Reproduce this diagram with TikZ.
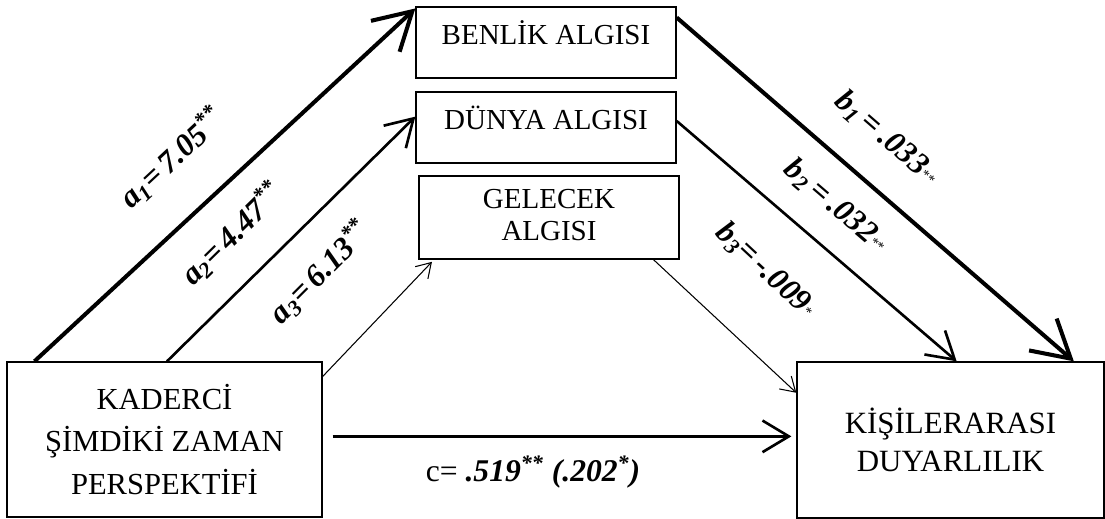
\documentclass[tikz,border=0pt]{standalone}
\usepackage{fontspec}
\setmainfont{Liberation Serif}
\usetikzlibrary{arrows.meta,calc}

\tikzset{
  box/.style={draw, line width=0.8pt, inner sep=0pt, align=center},
  smallbox/.style={box, minimum width=5.2cm, minimum height=1.42cm, font=\fontsize{16.5}{18.2}\selectfont, text height=0.4cm, text depth=0.3cm},
  bigbox/.style={box, font=\fontsize{17.4}{24.2}\selectfont},
  coef/.style={font=\fontsize{18}{21}\selectfont\bfseries\itshape, inner sep=0pt},
  heavy/.style={line width=2.3pt, -{Straight Barb[length=21pt,width=24pt]}},
  medium/.style={line width=1.5pt, -{Straight Barb[length=15pt,width=18pt]}},
  light/.style={line width=0.6pt, -{Straight Barb[length=8pt,width=10pt]}},
}

\begin{document}
\begin{tikzpicture}[x=0.02cm, y=-0.02cm]
\useasboundingbox (0,0) rectangle (1105,519);
% boxes
\node[smallbox] (benlik) at (546,42.5) {BENLİK ALGISI};
\node[smallbox] (dunya) at (546,127.5) {DÜNYA ALGISI};
\node[box, minimum width=5.2cm, minimum height=1.66cm, font=\fontsize{16.5}{18.2}\selectfont, text depth=0.1cm] (gelecek) at (549,217.5) {GELECEK\\ALGISI};
\node[bigbox, minimum width=6.3cm, minimum height=3.1cm] (kaderci) at (164.5,439.5) {KADERCİ\\ŞİMDİKİ ZAMAN\\PERSPEKTİFİ};
\node[bigbox, minimum width=6.14cm, minimum height=3.12cm, font=\fontsize{17.6}{21.6}\selectfont] (kisi) at (950.5,440) {KİŞİLERARASI\\DUYARLILIK};
% paths a
\draw[heavy] ($(kaderci.north west)!0.089!(kaderci.north east)$) -- ($(benlik.north west)!0.03!(benlik.south west)$);
\draw[medium] ($(kaderci.north west)!0.508!(kaderci.north east)$) -- ($(dunya.north west)!0.35!(dunya.south west)$);
\draw[light, shorten >=1.7pt] ($(kaderci.north east)!0.097!(kaderci.south east)$) -- ($(gelecek.south west)!0.06!(gelecek.south east)$);
% paths b
\draw[heavy] ($(benlik.north east)!0.155!(benlik.south east)$) -- ($(kisi.north west)!0.9!(kisi.north east)$);
\draw[medium] ($(dunya.north east)!0.41!(dunya.south east)$) -- ($(kisi.north west)!0.52!(kisi.north east)$);
\draw[light] ($(gelecek.south west)!0.9!(gelecek.south east)$) -- ($(kisi.north west)!0.2!(kisi.south west)$);
% path c
\coordinate (cfrom) at ($(kaderci.north east)!0.48!(kaderci.south east)$);
\draw[medium, shorten <=5.7pt, shorten >=2.8pt] (cfrom) -- (cfrom -| kisi.west);
% coefficients
\node[coef, rotate=43] (la1) at (172,158) {a\textsubscript{1}=\,7.05\textsuperscript{**}};
\node[coef, rotate=44.5] (la2) at (232,234) {a\textsubscript{2}=\,4.47\textsuperscript{**}};
\node[coef, rotate=45] (la3) at (320,272) {a\textsubscript{3}=\,6.13\textsuperscript{**}};
\node[coef, rotate=-41] (lb1) at (887,138) {b\textsubscript{1}\,=\,.033\raisebox{0.1ex}{\footnotesize\mdseries **}};
\node[coef, rotate=-40.6] (lb2) at (836,206) {b\textsubscript{2}\,=\,.032\raisebox{0.1ex}{\footnotesize\mdseries **}};
\node[coef, rotate=-43] (lb3) at (766,270) {b\textsubscript{3}=\,-.009\raisebox{0.1ex}{\footnotesize\mdseries *}};
\node[coef] (lc) at (533,472) {{\mdseries\upshape c=} .519\textsuperscript{**} (.202\textsuperscript{*})};
\end{tikzpicture}
\end{document}
